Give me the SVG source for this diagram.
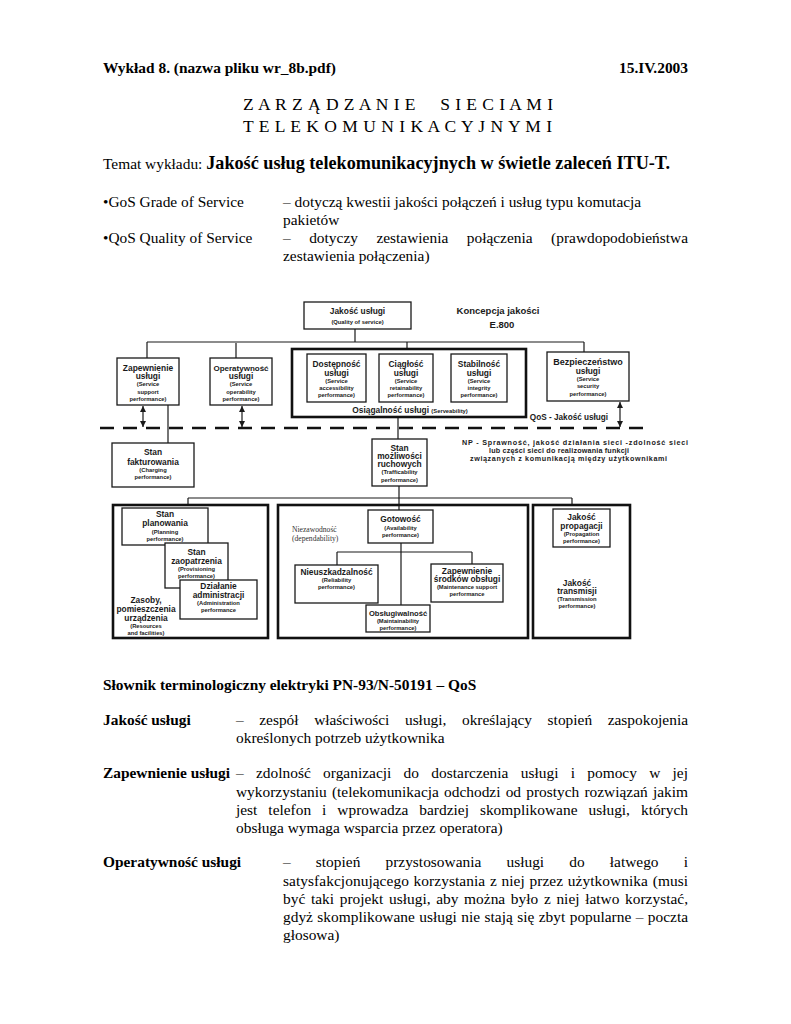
<svg xmlns="http://www.w3.org/2000/svg" width="791" height="1024" viewBox="0 0 791 1024">
<style>
.t{font-family:"Liberation Serif","Times New Roman",serif;font-size:15.4px;fill:#000}
.b{font-weight:bold}
.d{font-family:"Liberation Sans",Arial,sans-serif;font-weight:bold;fill:#1a1a1a;text-anchor:middle}
.m{font-size:8.4px}
.s{font-size:5.8px}
.bx{fill:#fff;stroke:#1a1a1a;stroke-width:1.3}
.tk{fill:none;stroke:#111;stroke-width:2.6}
.ln{fill:none;stroke:#1a1a1a;stroke-width:1.2}
.ar{fill:none;stroke:#1a1a1a;stroke-width:1.2;marker-start:url(#ah);marker-end:url(#ah)}
.pre{white-space:pre}
</style>
<defs>
<marker id="ah" viewBox="0 0 8 8" refX="8" refY="4" markerWidth="6" markerHeight="6" markerUnits="userSpaceOnUse" orient="auto-start-reverse"><path d="M0,0 L8,4 L0,8 z" fill="#1a1a1a"/></marker>
</defs>
<rect width="791" height="1024" fill="#fff"/>

<g id="header">
<text class="t b" x="103" y="73">Wykład 8. (nazwa pliku wr_8b.pdf)</text>
<text class="t b" x="688" y="73" text-anchor="end">15.IV.2003</text>
<text class="t pre" xml:space="preserve" x="243" y="110" style="font-size:17.5px" textLength="310" lengthAdjust="spacing">Z A R Z Ą D Z A N I E     S I E C I A M I</text>
<text class="t pre" xml:space="preserve" x="243" y="132" style="font-size:17.5px" textLength="309" lengthAdjust="spacing">T E L E K O M U N I K A C Y J N Y M I</text>
<text class="t" x="103" y="169">Temat wykładu: <tspan class="b" style="font-size:18.2px">Jakość usług telekomunikacyjnych w świetle zaleceń ITU-T.</tspan></text>
<text class="t" x="103" y="207">•GoS Grade of Service</text>
<text class="t" x="283" y="207">– dotyczą kwestii jakości połączeń i usług typu komutacja</text>
<text class="t" x="283" y="225">pakietów</text>
<text class="t" x="103" y="243">•QoS Quality of Service</text>
<text class="t" x="283" y="243" word-spacing="14.6" textLength="405" lengthAdjust="spacing">– dotyczy zestawienia połączenia (prawdopodobieństwa</text>
<text class="t" x="283" y="261">zestawienia połączenia)</text>
</g>

<g id="connectors">
<path class="ln" d="M355,329 V342 M147,342 H584 M147,342 V358 M236,343 V358 M407,342 V349 M584,342 V352"/>
<path class="ln" d="M168,405 V443 M398,417 V439 M399,486 V510 M188,498 H572 M188,498 V505 M572,498 V505"/>
<path class="ln" d="M401,543 V605 M337,552 H472 M337,552 V565 M472,552 V564"/>
<path class="ar" d="M143,406 V427"/>
<path class="ar" d="M242,406 V427"/>
<path class="ar" d="M620,402 V427"/>
<line x1="100" y1="428" x2="650" y2="428" stroke="#111" stroke-width="2.6" stroke-dasharray="14 9"/>
</g>

<g id="jakosc">
<rect class="bx" x="304" y="302" width="107" height="27"/>
<text class="d m" x="357.5" y="314">Jakość usługi</text>
<text class="d s" x="357.5" y="324">(Quality of service)</text>
</g>
<g id="koncepcja">
<text class="d" x="498" y="314" style="font-size:9.5px">Koncepcja jakości</text>
<text class="d" x="502" y="328" style="font-size:9.5px">E.800</text>
</g>

<g id="zapewnienie">
<rect class="bx" x="117" y="358" width="62" height="47"/>
<text class="d m" x="148" y="371">Zapewnienie</text>
<text class="d m" x="148" y="379">usługi</text>
<text class="d s" x="148" y="386">(Service</text>
<text class="d s" x="148" y="394">support</text>
<text class="d s" x="148" y="401">performance)</text>
</g>
<g id="operatywnosc">
<rect class="bx" x="210" y="358" width="62" height="47"/>
<text class="d m" x="241" y="371" style="font-size:8px">Operatywność</text>
<text class="d m" x="241" y="379">usługi</text>
<text class="d s" x="241" y="386">(Service</text>
<text class="d s" x="241" y="394">operability</text>
<text class="d s" x="241" y="401">performance)</text>
</g>

<g id="osiagalnosc">
<rect class="tk" x="292" y="349" width="234" height="68"/>
<text class="d m" x="410" y="413">Osiągalność usługi <tspan class="s">(Serveability)</tspan></text>
</g>
<g id="dostepnosc">
<rect class="bx" x="307" y="354" width="59" height="48"/>
<text class="d m" x="336.5" y="367">Dostępność</text>
<text class="d m" x="336.5" y="376">usługi</text>
<text class="d s" x="336.5" y="383">(Service</text>
<text class="d s" x="336.5" y="390">accessibility</text>
<text class="d s" x="336.5" y="397">performance)</text>
</g>
<g id="ciaglosc">
<rect class="bx" x="379" y="354" width="54" height="48"/>
<text class="d m" x="406" y="367">Ciągłość</text>
<text class="d m" x="406" y="376">usługi</text>
<text class="d s" x="406" y="383">(Service</text>
<text class="d s" x="406" y="390">retainability</text>
<text class="d s" x="406" y="397">performance)</text>
</g>
<g id="stabilnosc">
<rect class="bx" x="451" y="354" width="56" height="48"/>
<text class="d m" x="479" y="367">Stabilność</text>
<text class="d m" x="479" y="376">usługi</text>
<text class="d s" x="479" y="383">(Service</text>
<text class="d s" x="479" y="390">integrity</text>
<text class="d s" x="479" y="397">performance)</text>
</g>
<g id="bezpieczenstwo">
<rect class="bx" x="547" y="352" width="82" height="49"/>
<text class="d m" x="588" y="365" style="font-size:9px">Bezpieczeństwo</text>
<text class="d m" x="588" y="374">usługi</text>
<text class="d s" x="588" y="381">(Service</text>
<text class="d s" x="588" y="388">security</text>
<text class="d s" x="588" y="396">performance)</text>
</g>

<g id="qos-label">
<text class="d" x="569" y="420" style="font-size:8.2px">QoS - Jakość usługi</text>
</g>

<g id="fakturowanie">
<rect class="bx" x="112" y="443" width="82" height="44"/>
<text class="d m" x="153" y="455">Stan</text>
<text class="d m" x="153" y="465">fakturowania</text>
<text class="d s" x="153" y="472">(Charging</text>
<text class="d s" x="153" y="479">performance)</text>
</g>
<g id="ruchowe">
<rect class="bx" x="372" y="439" width="55" height="47"/>
<text class="d m" x="399.5" y="451">Stan</text>
<text class="d m" x="399.5" y="459">możliwości</text>
<text class="d m" x="399.5" y="467">ruchowych</text>
<text class="d s" x="399.5" y="474">(Trafficability</text>
<text class="d s" x="399.5" y="482">performance)</text>
</g>
<g id="np-label">
<text class="d" x="462" y="445" style="font-size:7.2px;text-anchor:start" textLength="226" lengthAdjust="spacing">NP -  Sprawność, jakość działania sieci -zdolność sieci</text>
<text class="d" x="489" y="453" style="font-size:7.2px;text-anchor:start" textLength="140" lengthAdjust="spacing">lub części sieci do realizowania funkcji</text>
<text class="d" x="470" y="461" style="font-size:7.2px;text-anchor:start" textLength="197" lengthAdjust="spacing">związanych z komunikacją między użytkownikami</text>
</g>

<g id="zasoby">
<rect class="tk" x="113" y="505" width="155" height="133"/>
<text class="d m" x="146" y="603">Zasoby,</text>
<text class="d m" x="146" y="612">pomieszczenia</text>
<text class="d m" x="146" y="621">urządzenia</text>
<text class="d s" x="146" y="628">(Resources</text>
<text class="d s" x="146" y="635">and facilities)</text>
</g>
<g id="planowanie">
<rect class="bx" x="122" y="508" width="86" height="37"/>
<text class="d m" x="165" y="517">Stan</text>
<text class="d m" x="165" y="526">planowania</text>
<text class="d s" x="165" y="534">(Planning</text>
<text class="d s" x="165" y="541">performance)</text>
</g>
<g id="zaopatrzenie">
<rect class="bx" x="165" y="543" width="63" height="45"/>
<text class="d m" x="196.5" y="555">Stan</text>
<text class="d m" x="196.5" y="564">zaopatrzenia</text>
<text class="d s" x="196.5" y="571">(Provisioning</text>
<text class="d s" x="196.5" y="578">performance)</text>
</g>
<g id="administracja">
<rect class="bx" x="180" y="580" width="77" height="39"/>
<text class="d m" x="218.5" y="589">Działanie</text>
<text class="d m" x="218.5" y="598">administracji</text>
<text class="d s" x="218.5" y="605">(Administration</text>
<text class="d s" x="218.5" y="612">performance</text>
</g>

<g id="niezawodnosc">
<rect class="tk" x="278" y="505" width="250" height="133"/>
<text x="292" y="532" style="font-family:'Liberation Serif',serif;font-size:7.6px;fill:#333">Niezawodność</text>
<text x="292" y="541" style="font-family:'Liberation Serif',serif;font-size:7.6px;fill:#333">(dependability)</text>
</g>
<g id="gotowosc">
<rect class="bx" x="368" y="510" width="65" height="33"/>
<text class="d m" x="400.5" y="522">Gotowość</text>
<text class="d s" x="400.5" y="530">(Availability</text>
<text class="d s" x="400.5" y="537">performance)</text>
</g>
<g id="nieuszkadzalnosc">
<rect class="bx" x="295" y="565" width="83" height="38"/>
<text class="d m" x="336.5" y="575">Nieuszkadzalność</text>
<text class="d s" x="336.5" y="582">(Reliability</text>
<text class="d s" x="336.5" y="589">performance)</text>
</g>
<g id="srodki">
<rect class="bx" x="431" y="564" width="72" height="38"/>
<text class="d m" x="467" y="574">Zapewnienie</text>
<text class="d m" x="467" y="582">środków obsługi</text>
<text class="d s" x="467" y="589">(Maintenance support</text>
<text class="d s" x="467" y="596">performance</text>
</g>
<g id="obslugiwalnosc">
<rect class="bx" x="366" y="605" width="64" height="27"/>
<text class="d m" x="398" y="616" style="font-size:7.6px">Obsługiwalność</text>
<text class="d s" x="398" y="623">(Maintainability</text>
<text class="d s" x="398" y="630">performance)</text>
</g>

<g id="transmisja">
<rect class="tk" x="533" y="505" width="97" height="133"/>
<text class="d m" x="577" y="586">Jakość</text>
<text class="d m" x="577" y="594">transmisji</text>
<text class="d s" x="577" y="601">(Transmission</text>
<text class="d s" x="577" y="608">performance)</text>
</g>
<g id="propagacja">
<rect class="bx" x="553" y="509" width="57" height="38"/>
<text class="d m" x="581.5" y="520">Jakość</text>
<text class="d m" x="581.5" y="529">propagacji</text>
<text class="d s" x="581.5" y="536">(Propagation</text>
<text class="d s" x="581.5" y="543">performance)</text>
</g>

<g id="slownik">
<text class="t b" x="103" y="690">Słownik terminologiczny elektryki PN-93/N-50191 – QoS</text>
<text class="t b" x="103" y="725">Jakość usługi</text>
<text class="t" x="236" y="725" word-spacing="11.7" textLength="452" lengthAdjust="spacing">– zespół właściwości usługi, określający stopień zaspokojenia</text>
<text class="t" x="236" y="743">określonych potrzeb użytkownika</text>
<text class="t b" x="103" y="778">Zapewnienie usługi</text>
<text class="t" x="236" y="778" word-spacing="8.4" textLength="452" lengthAdjust="spacing">– zdolność organizacji do dostarczenia usługi i pomocy w jej</text>
<text class="t" x="236" y="797" word-spacing="1.3" textLength="452" lengthAdjust="spacing">wykorzystaniu (telekomunikacja odchodzi od prostych rozwiązań jakim</text>
<text class="t" x="236" y="815" word-spacing="7.1" textLength="452" lengthAdjust="spacing">jest telefon i wprowadza bardziej skomplikowane usługi, których</text>
<text class="t" x="236" y="833">obsługa wymaga wsparcia przez operatora)</text>
<text class="t b" x="103" y="867">Operatywność usługi</text>
<text class="t" x="283" y="867" word-spacing="21.3" textLength="405" lengthAdjust="spacing">– stopień przystosowania usługi do łatwego i</text>
<text class="t" x="283" y="886" word-spacing="0.8" textLength="405" lengthAdjust="spacing">satysfakcjonującego korzystania z niej przez użytkownika (musi</text>
<text class="t" x="283" y="904" word-spacing="1.8" textLength="405" lengthAdjust="spacing">być taki projekt usługi, aby można było z niej łatwo korzystać,</text>
<text class="t" x="283" y="922" word-spacing="0.6" textLength="405" lengthAdjust="spacing">gdyż skomplikowane usługi nie stają się zbyt popularne – poczta</text>
<text class="t" x="283" y="940">głosowa)</text>
</g>
</svg>
